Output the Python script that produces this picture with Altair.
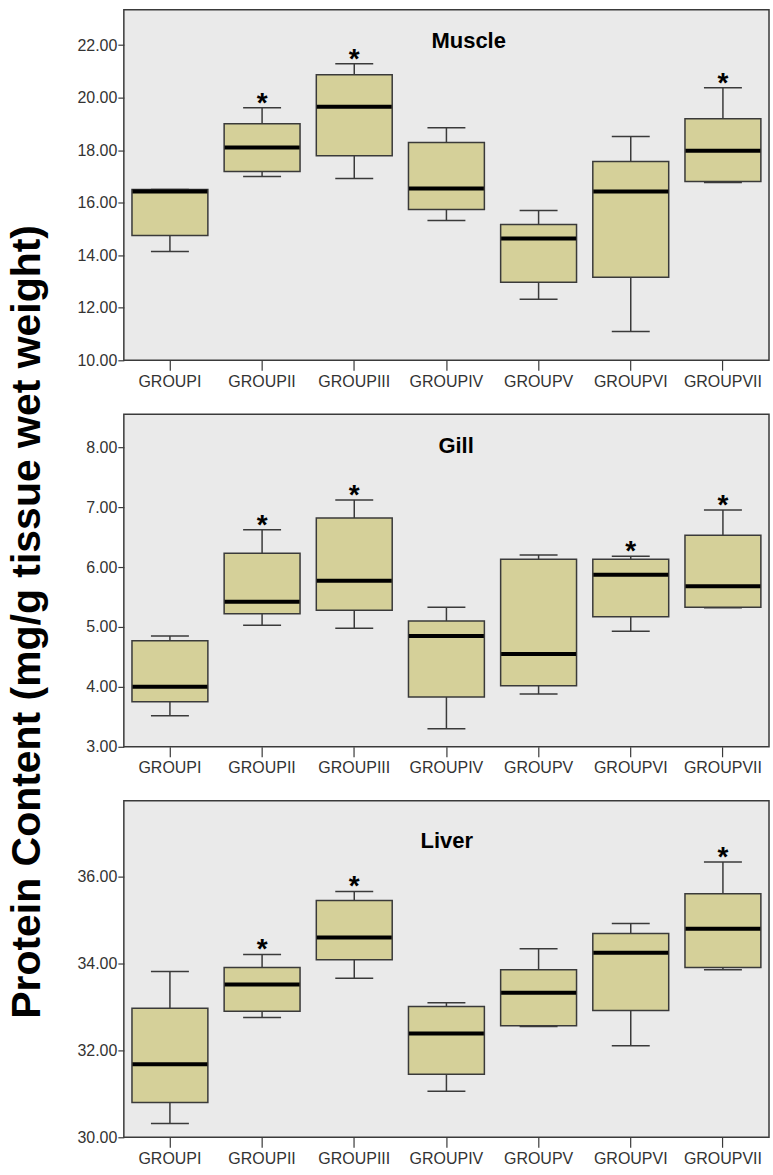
import altair as alt
import pandas as pd

# Treatment groups shown along every x axis
groups = ["GROUPI", "GROUPII", "GROUPIII", "GROUPIV", "GROUPV", "GROUPVI", "GROUPVII"]

# Five-number summaries per group: whisker low, Q1, median, Q3, whisker high
muscle_lo = [14.14, 17.00, 16.92, 15.32, 12.32, 11.10, 16.77]
muscle_q1 = [14.75, 17.19, 17.79, 15.74, 12.97, 13.16, 16.81]
muscle_med = [16.43, 18.10, 19.66, 16.54, 14.64, 16.43, 17.98]
muscle_q3 = [16.50, 19.01, 20.87, 18.29, 15.17, 17.57, 19.20]
muscle_hi = [16.50, 19.62, 21.29, 18.86, 15.70, 18.52, 20.38]
muscle_sig = [False, True, True, False, False, False, True]

gill_lo = [3.52, 5.03, 4.98, 3.30, 3.88, 4.93, 5.32]
gill_q1 = [3.75, 5.22, 5.28, 3.83, 4.02, 5.17, 5.33]
gill_med = [4.00, 5.42, 5.77, 4.85, 4.55, 5.87, 5.68]
gill_q3 = [4.77, 6.23, 6.82, 5.10, 6.13, 6.13, 6.53]
gill_hi = [4.85, 6.62, 7.12, 5.33, 6.20, 6.18, 6.95]
gill_sig = [False, True, True, False, False, True, True]

liver_lo = [30.32, 32.76, 33.66, 31.06, 32.55, 32.11, 33.86]
liver_q1 = [30.80, 32.90, 34.09, 31.45, 32.57, 32.92, 33.91]
liver_med = [31.68, 33.52, 34.60, 32.39, 33.33, 34.25, 34.80]
liver_q3 = [32.97, 33.91, 35.45, 33.01, 33.86, 34.69, 35.61]
liver_hi = [33.82, 34.21, 35.66, 33.10, 34.34, 34.92, 36.34]
liver_sig = [False, True, True, False, False, False, True]

y_title = "Protein Content (mg/g tissue wet weight)"

FONT = "Liberation Sans"
BOX_FILL = "#D5D099"
EDGE = "#3a3a3a"
PANEL_BG = "#EAEAEA"


def frame(lo, q1, med, q3, hi, sig):
    return pd.DataFrame({"group": groups, "lo": lo, "q1": q1, "med": med,
                         "q3": q3, "hi": hi, "sig": sig})


def panel(name, data, domain, ticks, height, label_x, label_y):
    yscale = alt.Scale(domain=domain, nice=False, zero=False)
    yaxis = alt.Axis(values=ticks, format=".2f", labelFontSize=16, labelFont=FONT,
                     labelColor="#333333", tickSize=6, tickColor=EDGE, tickWidth=1.2,
                     labelPadding=1, domain=False, grid=False, title=None)
    xaxis = alt.Axis(labelAngle=0, labelFontSize=16, labelFont=FONT, labelColor="#333333",
                     tickSize=10, tickColor=EDGE, tickWidth=1.2, labelPadding=3,
                     domain=False, grid=False, title=None)
    base = alt.Chart(data).encode(
        x=alt.X("group:N", sort=groups, axis=xaxis,
                scale=alt.Scale(paddingInner=0, paddingOuter=0))
    )
    whisker = base.mark_rule(color=EDGE, strokeWidth=1.5).encode(
        y=alt.Y("lo:Q", scale=yscale, axis=yaxis), y2="hi:Q")
    box = base.mark_bar(size=76, fill=BOX_FILL, stroke=EDGE, strokeWidth=1.5,
                        opacity=1).encode(
        y=alt.Y("q1:Q", scale=yscale), y2="q3:Q")
    cap_lo = base.mark_tick(orient="horizontal", size=38, thickness=1.5, color=EDGE,
                            opacity=1).encode(y=alt.Y("lo:Q", scale=yscale))
    cap_hi = base.mark_tick(orient="horizontal", size=38, thickness=1.5, color=EDGE,
                            opacity=1).encode(y=alt.Y("hi:Q", scale=yscale))
    median = base.mark_tick(orient="horizontal", size=75, thickness=4, color="black",
                            opacity=1).encode(y=alt.Y("med:Q", scale=yscale))
    star = base.transform_filter("datum.sig").mark_text(
        text="*", fontSize=28, fontWeight="bold", font=FONT, color="black",
        baseline="alphabetic", dy=4).encode(y=alt.Y("hi:Q", scale=yscale))
    label = alt.Chart(pd.DataFrame({"t": [name]})).mark_text(
        fontSize=22, fontWeight="bold", font=FONT, color="black",
        align="left", baseline="middle").encode(
        x=alt.value(label_x), y=alt.value(label_y), text="t:N")
    return alt.layer(whisker, box, cap_lo, cap_hi, median, star, label).properties(
        width=646, height=height,
        view=alt.ViewBackground(fill=PANEL_BG, stroke=EDGE, strokeWidth=1.5))


muscle = panel("Muscle", frame(muscle_lo, muscle_q1, muscle_med, muscle_q3, muscle_hi, muscle_sig),
               [10, 23.35], [10, 12, 14, 16, 18, 20, 22], 351, 308, 31)
gill = panel("Gill", frame(gill_lo, gill_q1, gill_med, gill_q3, gill_hi, gill_sig),
             [3, 8.55], [3, 4, 5, 6, 7, 8], 333, 315, 32)
liver = panel("Liver", frame(liver_lo, liver_q1, liver_med, liver_q3, liver_hi, liver_sig),
              [30, 37.75], [30, 32, 34, 36], 337, 297, 40)

panels = alt.vconcat(muscle, gill, liver, spacing=23)

side_title = alt.Chart(pd.DataFrame({"t": [y_title]})).mark_text(
    angle=270, fontSize=41, fontWeight="bold", font=FONT, color="black",
    align="center", baseline="middle").encode(
    x=alt.value(23), y=alt.value(613), text="t:N").properties(
    width=55, height=1130,
    view=alt.ViewBackground(fill="white", stroke="white", strokeWidth=0))

chart = alt.hconcat(side_title, panels, spacing=16).properties(
    padding={"left": 5, "top": 8, "right": 3, "bottom": 4}
).configure(background="white")

chart.save("out.html", embed_options={"renderer": "svg", "actions": False})
